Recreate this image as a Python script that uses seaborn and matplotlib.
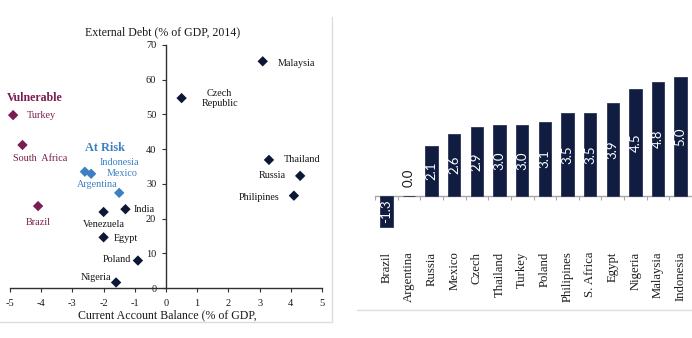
import numpy as np
import pandas as pd
import matplotlib
matplotlib.use("Agg")
import matplotlib.pyplot as plt
from matplotlib.lines import Line2D
import seaborn as sns

# ---- scatter: current account vs external debt ----
countries = ["Malaysia", "Czech\nRepublic", "Thailand", "Russia", "Philipines",
             "Turkey", "South  Africa", "Brazil",
             "Indonesia", "Mexico", "Argentina",
             "Venezuela", "India", "Egypt", "Poland", "Nigeria"]
current_account = [3.1, 0.5, 3.3, 4.3, 4.1,
                   -4.9, -4.6, -4.1,
                   -2.6, -2.4, -1.5,
                   -2.0, -1.3, -2.0, -0.9, -1.6]
external_debt = [65.3, 54.7, 36.9, 32.3, 26.6,
                 49.8, 41.2, 23.6,
                 33.5, 32.9, 27.4,
                 21.9, 22.7, 14.6, 7.9, 1.6]
groups = ["Other"] * 5 + ["Vulnerable"] * 3 + ["At Risk"] * 3 + ["Other"] * 5

# label placement (offset in pixels from the marker, horizontal alignment)
label_offsets = [(15, -2, "left"), (38, 0, "center"), (15, 0, "left"), (-14, 0, "right"),
                 (-14, -2, "right"),
                 (14, 0, "left"), (18, -14, "center"), (0, -16, "center"),
                 (15, 9, "left"), (16, 0, "left"), (-2, 8, "right"),
                 (0, -13, "center"), (8, 0, "left"), (10, -1, "left"), (-7, 1, "right"),
                 (-5, 5, "right")]

# ---- bars: growth by country ----
bar_countries = ["Brazil", "Argentina", "Russia", "Mexico", "Czech", "Thailand", "Turkey",
                 "Poland", "Philipines", "S. Africa", "Egypt", "Nigeria", "Malaysia",
                 "Indonesia"]
bar_values = [-1.3, 0.0, 2.1, 2.6, 2.9, 3.0, 3.0, 3.1, 3.5, 3.5, 3.9, 4.5, 4.8, 5.0]

NAVY = "#0c1836"
PURPLE = "#7a1d50"
BLUE = "#3a80c2"
BAR = "#101c40"
palette = {"Other": NAVY, "Vulnerable": PURPLE, "At Risk": BLUE}

sns.set_theme(style="white")
plt.rcParams["font.family"] = ["Liberation Serif", "DejaVu Serif"]
plt.rcParams["axes.unicode_minus"] = False

W, H = 692, 338
fig = plt.figure(figsize=(W / 100, H / 100), dpi=100)
fig.patch.set_facecolor("white")

# ----- left panel -----
AX_L, AX_W = 10, 312
ax = fig.add_axes([AX_L / W, 1 - 288 / H, AX_W / W, 243 / H])
df = pd.DataFrame({"country": countries, "ca": current_account,
                   "debt": external_debt, "group": groups})
sns.scatterplot(data=df, x="ca", y="debt", hue="group", palette=palette,
                marker="D", s=28, linewidth=0, legend=False, ax=ax, zorder=3)
for coll in ax.collections:
    coll.set_clip_on(False)
ax.set_xlim(-5, 5)
ax.set_ylim(0, 70)
ax.set_xticks(range(-5, 6))
ax.set_yticks(range(0, 71, 10))
for side in ("top", "right"):
    ax.spines[side].set_visible(False)
ax.spines["left"].set_position(("data", 0))
for side in ("left", "bottom"):
    ax.spines[side].set_color("#303030")
    ax.spines[side].set_linewidth(1.0)
ax.tick_params(axis="both", which="major", direction="out", length=3, width=0.8,
               color="#303030", labelsize=7.5, labelcolor="#1a1a1a")
ax.tick_params(axis="x", pad=5, bottom=True)
ax.tick_params(axis="y", pad=4, left=True)
ax.set_xlabel("")
ax.set_ylabel("")
ax.set_facecolor("none")

for name, x, y, g, (dx, dy, ha) in zip(countries, current_account, external_debt,
                                       groups, label_offsets):
    ax.annotate(name, xy=(x, y), xytext=(dx * 0.72, dy * 0.72),
                textcoords="offset points", ha=ha, va="center",
                fontsize=7.3, color=palette[g] if g != "Other" else "#151515",
                linespacing=1.15, annotation_clip=False)

ax.text((7 - AX_L) / AX_W, 1 - (98 - 45) / 243, "Vulnerable", transform=ax.transAxes,
        fontsize=8.6, fontweight="bold", color=PURPLE, ha="left", va="center")
ax.text((85 - AX_L) / AX_W, 1 - (148 - 45) / 243, "At Risk", transform=ax.transAxes,
        fontsize=8.8, fontweight="bold", color=BLUE, ha="left", va="center")

ax.text(0.49, 1 + 13 / 243, "External Debt (% of GDP, 2014)", transform=ax.transAxes,
        ha="center", va="center", fontsize=8.6, color="#1a1a1a")
ax.text(0.505, -27 / 243, "Current Account Balance (% of GDP,", transform=ax.transAxes,
        ha="center", va="center", fontsize=8.6, color="#1a1a1a")

# panel borders
fig.add_artist(Line2D([332 / W, 332 / W], [1 - 322 / H, 1 - 17 / H],
                      color="#dcdcdc", lw=1))
fig.add_artist(Line2D([0, 332 / W], [1 - 322 / H, 1 - 322 / H],
                      color="#dcdcdc", lw=1))
fig.add_artist(Line2D([357 / W, 1], [1 - 310 / H, 1 - 310 / H],
                      color="#dcdcdc", lw=1))

# ----- right panel -----
y0, y1 = -1.5, 5.5
px_unit = 23.8
bot_px = 196 + (-y0) * px_unit
top_px = 196 - y1 * px_unit
ax2 = fig.add_axes([375 / W, 1 - bot_px / H, 317 / W, (bot_px - top_px) / H])
sns.barplot(x=bar_countries, y=bar_values, color=BAR, width=0.55, saturation=1,
            edgecolor="#2a3554", linewidth=0.6, ax=ax2, zorder=2)
ax2.set_xlim(-0.5, 13.26)
ax2.set_ylim(y0, y1)
ax2.set_facecolor("none")
for side in ("top", "right", "left"):
    ax2.spines[side].set_visible(False)
ax2.spines["bottom"].set_position(("data", 0))
ax2.spines["bottom"].set_color("#a8a8a8")
ax2.spines["bottom"].set_linewidth(1.0)
ax2.spines["bottom"].set_zorder(1)
ax2.set_yticks([])
ax2.set_xticks(np.arange(-0.5, len(bar_countries), 1), minor=True)
ax2.tick_params(axis="x", which="minor", bottom=True, length=3, width=0.8,
                color="#a8a8a8", direction="out")
ax2.tick_params(axis="x", which="major", bottom=True, length=0, pad=40,
                labelsize=9.2, labelcolor="#1a1a1a", labelrotation=90)
ax2.set_xlabel("")
ax2.set_ylabel("")

for i, v in enumerate(bar_values):
    txt = f"{v:.1f}"
    if v == 0:
        ax2.annotate(txt, xy=(i, 0), xytext=(0, 6.5), textcoords="offset points",
                     ha="center", va="bottom", rotation=90, fontsize=9.5,
                     color="#1a1a1a", family="Lato")
    else:
        ax2.text(i, v / 2, txt, ha="center", va="center", rotation=90,
                 fontsize=9.5, color="white", family="Lato", zorder=4)

fig.savefig("out.png", dpi=100, facecolor="white")
